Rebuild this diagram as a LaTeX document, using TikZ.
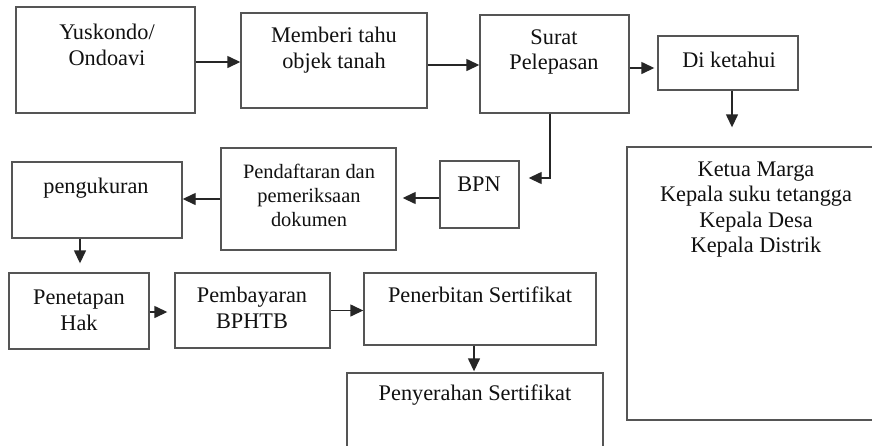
\documentclass[tikz,border=0pt]{standalone}
\usepackage{fontspec}
\setmainfont{Liberation Serif}
\usetikzlibrary{arrows.meta,calc}
\definecolor{boxgray}{HTML}{555555}
\definecolor{txtgray}{HTML}{111111}
\begin{document}
\begin{tikzpicture}[x=1pt,y=-1pt,
  box/.style={draw=boxgray, line width=1.4pt, inner sep=0pt, fill=none},
  txt/.style={text=txtgray, align=center, inner sep=0pt, font=\fontsize{22.3}{25.5}\selectfont},
  txtsm/.style={text=txtgray, align=center, inner sep=0pt, font=\fontsize{20.4}{24}\selectfont},
  arr/.style={draw=black!85, line width=1.4pt, -{Triangle[length=13pt,width=12pt]}}
]
\useasboundingbox (0,0) rectangle (872,445);
\clip (0,0) rectangle (872,445);
\fill[white] (0,0) rectangle (872,445);

% boxes
\node[box, minimum width=179pt, minimum height=106pt] (b1) at (105.5,60) {};
\node[box, minimum width=186pt, minimum height=95pt] (b2) at (334,60.5) {};
\node[box, minimum width=149pt, minimum height=98pt] (b3) at (554.5,64) {};
\node[box, minimum width=140pt, minimum height=54pt] (b4) at (728,63) {};
\node[box, minimum width=258pt, minimum height=273pt] (b5) at (756,283.5) {};
\node[box, minimum width=79pt, minimum height=67pt] (bpn) at (479.5,194.5) {};
\node[box, minimum width=175pt, minimum height=102pt] (b7) at (308.5,199) {};
\node[box, minimum width=170pt, minimum height=76pt] (b8) at (97,200) {};
\node[box, minimum width=140pt, minimum height=76pt] (b9) at (79,311) {};
\node[box, minimum width=155pt, minimum height=75pt] (b10) at (252.5,310.5) {};
\node[box, minimum width=232pt, minimum height=72pt] (b11) at (480,309) {};
\node[box, minimum width=256pt, minimum height=77pt] (b12) at (475,411.5) {};

% texts
\node[txt] (t1) at (107,45) {Yuskondo/\\Ondoavi};
\node[txt] (t2) at (334,50) {Memberi tahu\\objek tanah};
\node[txt] (t3) at (554,52) {Surat\\Pelepasan};
\node[txt] (t4) at (729,60) {Di ketahui};
\node[txt] (t5) at (756,209.5) {Ketua Marga\\Kepala suku tetangga\\Kepala Desa\\Kepala Distrik};
\node[txt] (tbpn) at (479,184) {BPN};
\node[txtsm] (t7) at (309,195) {Pendaftaran dan\\pemeriksaan\\dokumen};
\node[txt] (t8) at (96,188) {pengukuran};
\node[txt] (t9) at (79,310.5) {Penetapan\\Hak};
\node[txt] (t10) at (252,308) {Pembayaran\\BPHTB};
\node[txt] (t11) at (480,295) {Penerbitan Sertifikat};
\node[txt] (t12) at (475,395) {Penyerahan Sertifikat};

% connectors
\draw[arr] ([yshift=-2pt]b1.east) -- ([yshift=-2pt]b1.east -| b2.west);
\draw[arr] ([yshift=-4.5pt]b2.east) -- ([yshift=-4.5pt]b2.east -| b3.west);
\draw[arr, shorten >=3pt] ([yshift=-4pt]b3.east) -- ([yshift=-4pt]b3.east -| b4.west);
\draw[arr, shorten >=19pt] ([xshift=4pt]b4.south) -- ([xshift=4pt]b4.south |- b5.north);
\draw[arr, shorten >=9pt] ([xshift=-4.5pt]b3.south) |- ([yshift=16.5pt]bpn.east);
\draw[arr, shorten >=6pt] ([yshift=-3.5pt]bpn.west) -- ([yshift=-3.5pt]bpn.west -| b7.east);
\draw[arr] (b7.west) -- (b7.west -| b8.east);
\draw[arr, shorten >=9pt] ([xshift=-17pt]b8.south) -- ([xshift=-17pt]b8.south |- b9.north);
\draw[arr, shorten >=7pt] ([yshift=-1pt]b9.east) -- ([yshift=-1pt]b9.east -| b10.west);
\draw[arr] (b10.east) -- (b10.east -| b11.west);
\draw[arr, shorten >=1pt] ([xshift=-6pt]b11.south) -- ([xshift=-6pt]b11.south |- b12.north);
\end{tikzpicture}
\end{document}
